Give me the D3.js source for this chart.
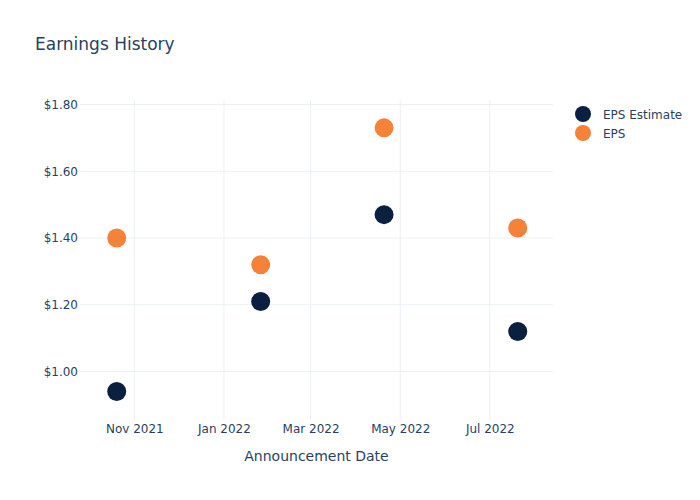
<!DOCTYPE html>
<html><head><meta charset="utf-8">
<script src="https://cdn.jsdelivr.net/npm/d3@7"></script>
<style>body{margin:0;background:#fff;}text{font-family:"DejaVu Sans",Verdana,sans-serif;}</style>
</head><body><svg id="c" width="700" height="500"></svg>
<script>
const dates = ["2021-10-20","2022-01-26","2022-04-20","2022-07-20"];
const epsEstimate = [0.94, 1.21, 1.47, 1.12];
const eps = [1.40, 1.32, 1.73, 1.43];
const seriesNames = ["EPS Estimate","EPS"];
const seriesColors = ["#0b1f41","#f6823a"];
const yTicks = [1.0, 1.2, 1.4, 1.6, 1.8];
const xTicks = ["2021-11-01","2022-01-01","2022-03-01","2022-05-01","2022-07-01"];

const parse = d3.utcParse("%Y-%m-%d");
const svg = d3.select("#c");
const L=80, R=553, T=100, B=420;
const x = d3.scaleUtc().domain([parse("2021-09-25"), parse("2022-08-13")]).range([L,R]);
const y = d3.scaleLinear().domain([0.8547, 1.8135]).range([B,T]);
const ink = "#2a3f5f", grid = "#ebf0f8";

svg.append("g").selectAll("line").data(xTicks).join("line")
  .attr("x1",d=>x(parse(d))).attr("x2",d=>x(parse(d))).attr("y1",T).attr("y2",B)
  .attr("stroke",grid).attr("stroke-width",1);
svg.append("g").selectAll("line").data(yTicks).join("line")
  .attr("x1",L).attr("x2",R).attr("y1",d=>y(d)).attr("y2",d=>y(d))
  .attr("stroke",grid).attr("stroke-width",1);

const xa = svg.append("g").attr("transform",`translate(0,${B})`)
  .call(d3.axisBottom(x).tickValues(xTicks.map(parse)).tickFormat(d3.utcFormat("%b %Y")).tickSize(0).tickPadding(4));
xa.select(".domain").remove();
xa.selectAll("text").attr("fill",ink).attr("font-size",12);
const ya = svg.append("g").attr("transform",`translate(${L},0)`)
  .call(d3.axisLeft(y).tickValues(yTicks).tickFormat(d=>"$"+d3.format(".2f")(d)).tickSize(0).tickPadding(2));
ya.select(".domain").remove();
ya.selectAll("text").attr("fill",ink).attr("font-size",12);

[epsEstimate, eps].forEach((vals,i)=>{
  svg.append("g").selectAll("circle").data(vals).join("circle")
    .attr("cx",(d,j)=>x(parse(dates[j]))).attr("cy",d=>y(d)).attr("r",9.5)
    .attr("fill",seriesColors[i]);
});

svg.append("text").attr("x",35).attr("y",50).attr("font-size",17).attr("fill",ink).text("Earnings History");
svg.append("text").attr("x",(L+R)/2).attr("y",461).attr("text-anchor","middle").attr("font-size",14).attr("fill",ink).text("Announcement Date");

seriesNames.forEach((n,i)=>{
  const g = svg.append("g").attr("transform",`translate(583,${114+i*19})`);
  g.append("circle").attr("r",8).attr("fill",seriesColors[i]);
  g.append("text").attr("x",20).attr("y",4.5).attr("font-size",12).attr("fill",ink).text(n);
});
</script></body></html>
